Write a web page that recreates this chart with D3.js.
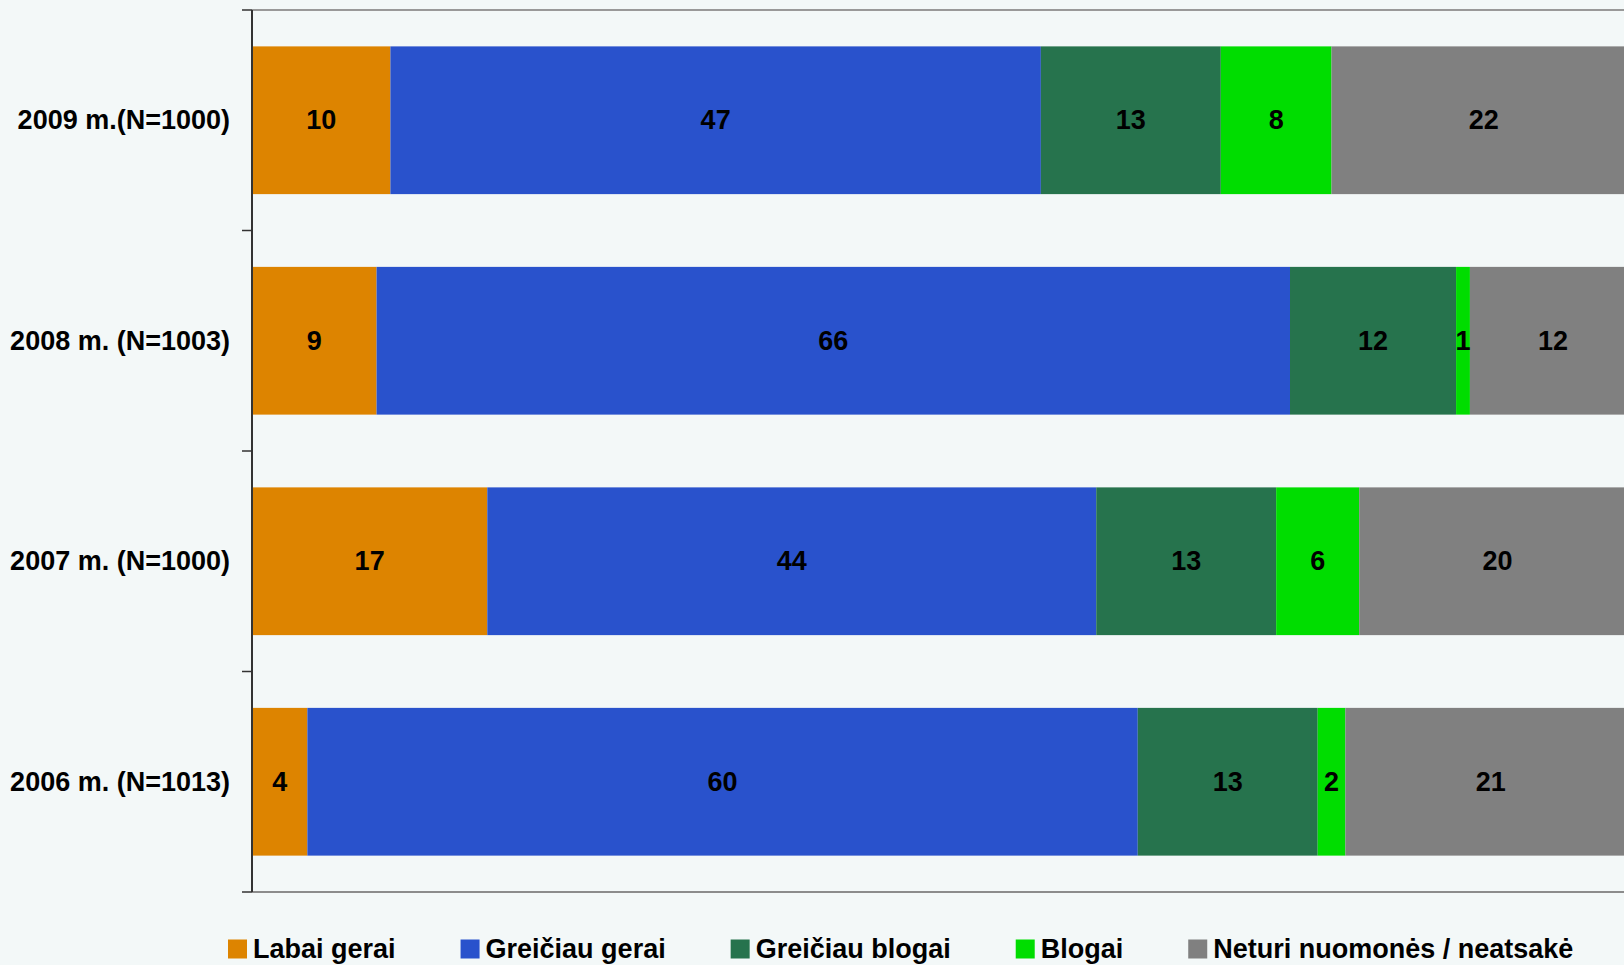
<!DOCTYPE html>
<html>
<head>
<meta charset="utf-8">
<script src="https://cdn.jsdelivr.net/npm/d3@7"></script>
<style>
  html, body { margin: 0; padding: 0; background: #F3F8F8; }
  svg { display: block; }
  text { font-family: Arial, "Liberation Sans", sans-serif; font-weight: bold; }
</style>
</head>
<body>
<svg id="chart" width="1624" height="965"></svg>
<script>
const categories = ["2009 m.(N=1000)", "2008 m. (N=1003)", "2007 m. (N=1000)", "2006 m. (N=1013)"];
const seriesNames = ["Labai gerai", "Greičiau gerai", "Greičiau blogai", "Blogai", "Neturi nuomonės / neatsakė"];
const seriesColors = ["#DD8400", "#2952CC", "#26734D", "#00DD00", "#808080"];
const labaiGerai     = [10, 9, 17, 4];
const greiciauGerai  = [47, 66, 44, 60];
const greiciauBlogai = [13, 12, 13, 13];
const blogai         = [8, 1, 6, 2];
const neturi         = [22, 12, 20, 21];

const seriesValues = [labaiGerai, greiciauGerai, greiciauBlogai, blogai, neturi];

(function () {
const svg = d3.select("#chart");
const W = 1624;
const mLeft = 252, mTop = 10, mBottom = 892;

const x = d3.scaleLinear().domain([0, 100]).range([mLeft, mLeft + 1384]);
const y = d3.scaleBand().domain(categories).range([mTop, mBottom]).paddingInner(0.33).paddingOuter(0.165);

const rows = categories.map((c, i) => {
  const o = { cat: c };
  seriesNames.forEach((s, j) => { o[s] = seriesValues[j][i]; });
  return o;
});
const stack = d3.stack().keys(seriesNames)(rows);

svg.append("line").attr("x1", mLeft).attr("x2", W).attr("y1", mTop).attr("y2", mTop)
  .attr("stroke", "#999").attr("stroke-width", 2);
svg.append("line").attr("x1", mLeft).attr("x2", W).attr("y1", mBottom).attr("y2", mBottom)
  .attr("stroke", "#8c8c8c").attr("stroke-width", 2);

const layers = svg.append("g").selectAll("g").data(stack).join("g")
  .attr("fill", (d, i) => seriesColors[i]);
layers.selectAll("rect").data(d => d).join("rect")
  .attr("x", d => x(d[0]))
  .attr("y", d => y(d.data.cat))
  .attr("width", d => x(d[1]) - x(d[0]))
  .attr("height", y.bandwidth());

const lbl = svg.append("g");
stack.forEach((layer) => {
  layer.forEach(d => {
    lbl.append("text")
      .attr("x", (x(d[0]) + x(d[1])) / 2)
      .attr("y", y(d.data.cat) + y.bandwidth() / 2)
      .attr("text-anchor", "middle")
      .attr("dominant-baseline", "central")
      .attr("font-size", 27)
      .attr("fill", "#000")
      .text(d[1] - d[0]);
  });
});

const ax = svg.append("g");
ax.append("line").attr("x1", mLeft).attr("x2", mLeft).attr("y1", mTop).attr("y2", mBottom)
  .attr("stroke", "#333").attr("stroke-width", 2);
const bounds = categories.map(c => y(c) - y.step() * y.paddingInner() / 2).concat([mBottom]);
bounds[0] = mTop;
ax.selectAll("line.tick").data(bounds).join("line").attr("class", "tick")
  .attr("x1", mLeft - 10).attr("x2", mLeft).attr("y1", d => d).attr("y2", d => d)
  .attr("stroke", "#333").attr("stroke-width", 1.5);
ax.selectAll("text").data(categories).join("text")
  .attr("x", 230)
  .attr("y", d => y(d) + y.bandwidth() / 2)
  .attr("text-anchor", "end")
  .attr("dominant-baseline", "central")
  .attr("font-size", 27)
  .attr("fill", "#000")
  .text(d => d);

const lg = svg.append("g");
let lx = 228;
const ly = 949;
seriesNames.forEach((s, i) => {
  lg.append("rect").attr("x", lx).attr("y", ly - 9.5).attr("width", 19).attr("height", 19)
    .attr("fill", seriesColors[i]);
  const t = lg.append("text").attr("x", lx + 25).attr("y", ly)
    .attr("dominant-baseline", "central").attr("font-size", 27).attr("fill", "#000").text(s);
  lx = lx + 25 + t.node().getComputedTextLength() + 65;
});
})();
</script>
</body>
</html>
